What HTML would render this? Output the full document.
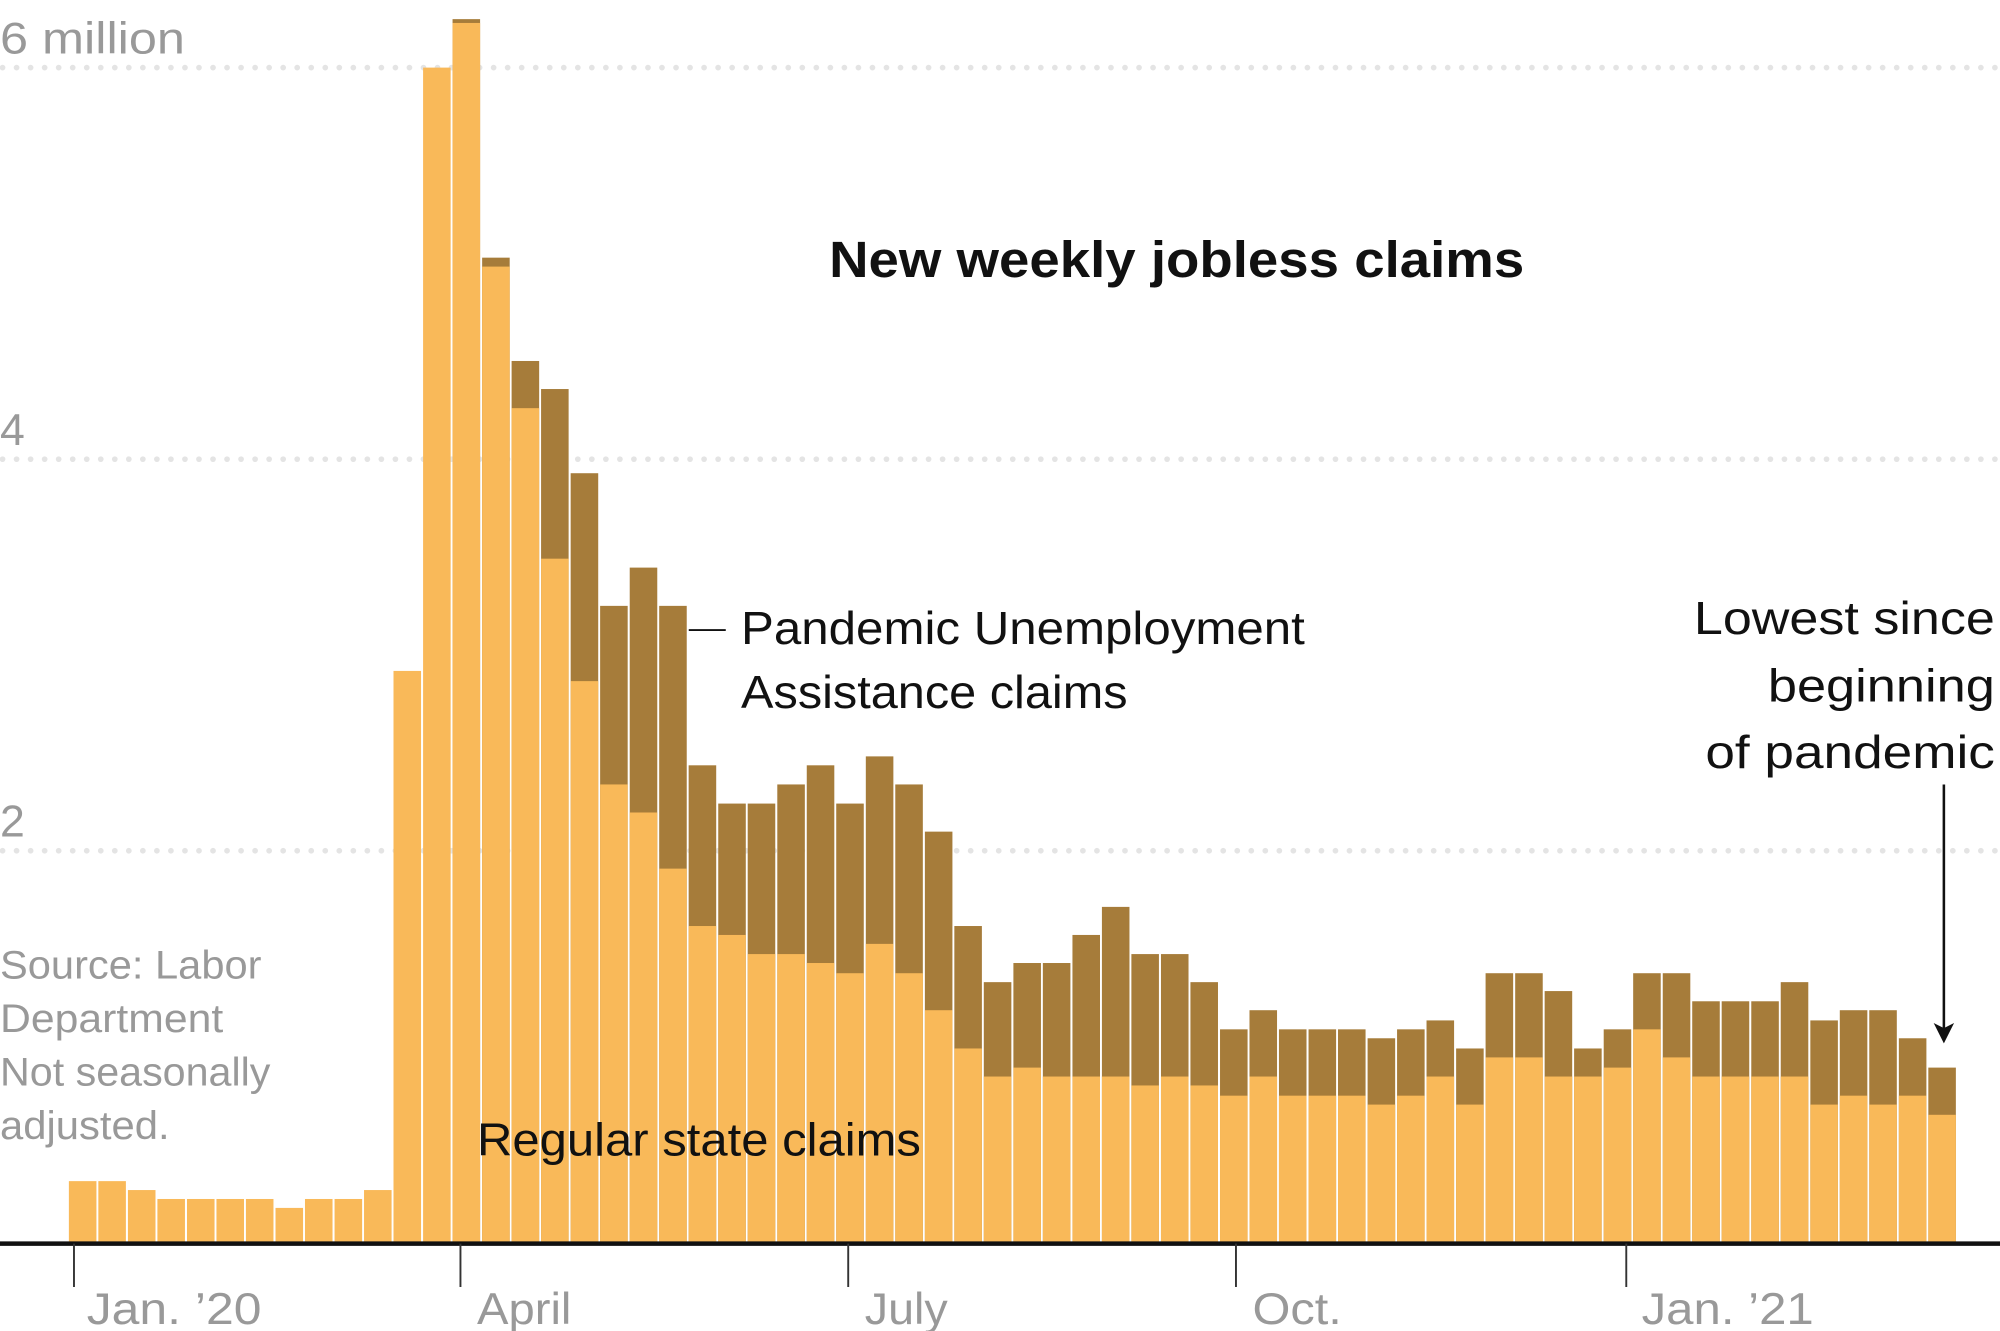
<!DOCTYPE html>
<html><head><meta charset="utf-8"><style>html,body{margin:0;padding:0;background:#fff}svg{display:block}</style></head><body>
<svg width="2000" height="1331" viewBox="0 0 1568 1043.5" xmlns="http://www.w3.org/2000/svg" font-family="'Liberation Sans', sans-serif">
<g stroke="#e4e4e4" stroke-width="4.5" stroke-linecap="round" stroke-dasharray="0 11">
<line x1="2" y1="53" x2="1568" y2="53"/><line x1="2" y1="360" x2="1568" y2="360"/><line x1="2" y1="667" x2="1568" y2="667"/>
</g>
<g fill="#999" font-size="35" font-weight="300">
<text x="0" y="42" textLength="145" lengthAdjust="spacingAndGlyphs">6 million</text><text x="0" y="349">4</text><text x="0" y="656">2</text>
</g>
<g fill="#a67c3a">
<rect x="354.8" y="15" width="21.6" height="960"/><rect x="378" y="202" width="21.6" height="773"/><rect x="401.1" y="283" width="21.6" height="692"/><rect x="424.2" y="305" width="21.6" height="670"/><rect x="447.4" y="371" width="21.6" height="604"/><rect x="470.5" y="475" width="21.6" height="500"/><rect x="493.7" y="445" width="21.6" height="530"/><rect x="516.8" y="475" width="21.6" height="500"/><rect x="539.9" y="600" width="21.6" height="375"/><rect x="563.1" y="630" width="21.6" height="345"/><rect x="586.2" y="630" width="21.6" height="345"/><rect x="609.4" y="615" width="21.6" height="360"/><rect x="632.5" y="600" width="21.6" height="375"/><rect x="655.6" y="630" width="21.6" height="345"/><rect x="678.8" y="593" width="21.6" height="382"/><rect x="701.9" y="615" width="21.6" height="360"/><rect x="725.1" y="652" width="21.6" height="323"/><rect x="748.2" y="726" width="21.6" height="249"/><rect x="771.3" y="770" width="21.6" height="205"/><rect x="794.5" y="755" width="21.6" height="220"/><rect x="817.6" y="755" width="21.6" height="220"/><rect x="840.8" y="733" width="21.6" height="242"/><rect x="863.9" y="711" width="21.6" height="264"/><rect x="887" y="748" width="21.6" height="227"/><rect x="910.2" y="748" width="21.6" height="227"/><rect x="933.3" y="770" width="21.6" height="205"/><rect x="956.5" y="807" width="21.6" height="168"/><rect x="979.6" y="792" width="21.6" height="183"/><rect x="1002.7" y="807" width="21.6" height="168"/><rect x="1025.9" y="807" width="21.6" height="168"/><rect x="1049" y="807" width="21.6" height="168"/><rect x="1072.2" y="814" width="21.6" height="161"/><rect x="1095.3" y="807" width="21.6" height="168"/><rect x="1118.4" y="800" width="21.6" height="175"/><rect x="1141.6" y="822" width="21.6" height="153"/><rect x="1164.7" y="763" width="21.6" height="212"/><rect x="1187.9" y="763" width="21.6" height="212"/><rect x="1211" y="777" width="21.6" height="198"/><rect x="1234.1" y="822" width="21.6" height="153"/><rect x="1257.3" y="807" width="21.6" height="168"/><rect x="1280.4" y="763" width="21.6" height="212"/><rect x="1303.6" y="763" width="21.6" height="212"/><rect x="1326.7" y="785" width="21.6" height="190"/><rect x="1349.8" y="785" width="21.6" height="190"/><rect x="1373" y="785" width="21.6" height="190"/><rect x="1396.1" y="770" width="21.6" height="205"/><rect x="1419.3" y="800" width="21.6" height="175"/><rect x="1442.4" y="792" width="21.6" height="183"/><rect x="1465.5" y="792" width="21.6" height="183"/><rect x="1488.7" y="814" width="21.6" height="161"/><rect x="1511.8" y="837" width="21.6" height="138"/>
</g>
<g fill="#f9b959">
<rect x="54" y="926" width="21.6" height="49"/><rect x="77.1" y="926" width="21.6" height="49"/><rect x="100.3" y="933" width="21.6" height="42"/><rect x="123.4" y="940" width="21.6" height="35"/><rect x="146.6" y="940" width="21.6" height="35"/><rect x="169.7" y="940" width="21.6" height="35"/><rect x="192.8" y="940" width="21.6" height="35"/><rect x="216" y="947" width="21.6" height="28"/><rect x="239.1" y="940" width="21.6" height="35"/><rect x="262.3" y="940" width="21.6" height="35"/><rect x="285.4" y="933" width="21.6" height="42"/><rect x="308.5" y="526" width="21.6" height="449"/><rect x="331.7" y="53" width="21.6" height="922"/>
<rect x="354.8" y="18" width="21.6" height="957"/><rect x="378" y="209" width="21.6" height="766"/><rect x="401.1" y="320" width="21.6" height="655"/><rect x="424.2" y="438" width="21.6" height="537"/><rect x="447.4" y="534" width="21.6" height="441"/><rect x="470.5" y="615" width="21.6" height="360"/><rect x="493.7" y="637" width="21.6" height="338"/><rect x="516.8" y="681" width="21.6" height="294"/><rect x="539.9" y="726" width="21.6" height="249"/><rect x="563.1" y="733" width="21.6" height="242"/><rect x="586.2" y="748" width="21.6" height="227"/><rect x="609.4" y="748" width="21.6" height="227"/><rect x="632.5" y="755" width="21.6" height="220"/><rect x="655.6" y="763" width="21.6" height="212"/><rect x="678.8" y="740" width="21.6" height="235"/><rect x="701.9" y="763" width="21.6" height="212"/><rect x="725.1" y="792" width="21.6" height="183"/><rect x="748.2" y="822" width="21.6" height="153"/><rect x="771.3" y="844" width="21.6" height="131"/><rect x="794.5" y="837" width="21.6" height="138"/><rect x="817.6" y="844" width="21.6" height="131"/><rect x="840.8" y="844" width="21.6" height="131"/><rect x="863.9" y="844" width="21.6" height="131"/><rect x="887" y="851" width="21.6" height="124"/><rect x="910.2" y="844" width="21.6" height="131"/><rect x="933.3" y="851" width="21.6" height="124"/><rect x="956.5" y="859" width="21.6" height="116"/><rect x="979.6" y="844" width="21.6" height="131"/><rect x="1002.7" y="859" width="21.6" height="116"/><rect x="1025.9" y="859" width="21.6" height="116"/><rect x="1049" y="859" width="21.6" height="116"/><rect x="1072.2" y="866" width="21.6" height="109"/><rect x="1095.3" y="859" width="21.6" height="116"/><rect x="1118.4" y="844" width="21.6" height="131"/><rect x="1141.6" y="866" width="21.6" height="109"/><rect x="1164.7" y="829" width="21.6" height="146"/><rect x="1187.9" y="829" width="21.6" height="146"/><rect x="1211" y="844" width="21.6" height="131"/><rect x="1234.1" y="844" width="21.6" height="131"/><rect x="1257.3" y="837" width="21.6" height="138"/><rect x="1280.4" y="807" width="21.6" height="168"/><rect x="1303.6" y="829" width="21.6" height="146"/><rect x="1326.7" y="844" width="21.6" height="131"/><rect x="1349.8" y="844" width="21.6" height="131"/><rect x="1373" y="844" width="21.6" height="131"/><rect x="1396.1" y="844" width="21.6" height="131"/><rect x="1419.3" y="866" width="21.6" height="109"/><rect x="1442.4" y="859" width="21.6" height="116"/><rect x="1465.5" y="866" width="21.6" height="109"/><rect x="1488.7" y="859" width="21.6" height="116"/><rect x="1511.8" y="874" width="21.6" height="101"/>
</g>
<line x1="0" y1="975" x2="1568" y2="975" stroke="#111" stroke-width="3.5"/>
<g stroke="#333" stroke-width="1.5">
<line x1="58" y1="975" x2="58" y2="1009"/><line x1="361" y1="975" x2="361" y2="1009"/><line x1="665" y1="975" x2="665" y2="1009"/><line x1="969" y1="975" x2="969" y2="1009"/><line x1="1275" y1="975" x2="1275" y2="1009"/>
</g>
<g fill="#999" font-size="35">
<text x="68" y="1038" textLength="137" lengthAdjust="spacingAndGlyphs">Jan. ’20</text><text x="374" y="1038" textLength="74" lengthAdjust="spacingAndGlyphs">April</text><text x="678" y="1038" textLength="65" lengthAdjust="spacingAndGlyphs">July</text><text x="982" y="1038" textLength="70" lengthAdjust="spacingAndGlyphs">Oct.</text><text x="1287" y="1038" textLength="135" lengthAdjust="spacingAndGlyphs">Jan. ’21</text>
</g>
<g fill="#999" font-size="31">
<text x="0" y="767" textLength="205" lengthAdjust="spacingAndGlyphs">Source: Labor</text><text x="0" y="809" textLength="175" lengthAdjust="spacingAndGlyphs">Department</text><text x="0" y="851" textLength="212" lengthAdjust="spacingAndGlyphs">Not seasonally</text><text x="0" y="893" textLength="133" lengthAdjust="spacingAndGlyphs">adjusted.</text>
</g>
<text x="650" y="217" font-size="40" font-weight="bold" fill="#111" textLength="545" lengthAdjust="spacingAndGlyphs">New weekly jobless claims</text>
<g fill="#111" font-size="36">
<text x="581" y="505" textLength="442" lengthAdjust="spacingAndGlyphs">Pandemic Unemployment</text>
<text x="581" y="555" textLength="303" lengthAdjust="spacingAndGlyphs">Assistance claims</text>
<text x="374" y="906" textLength="348" lengthAdjust="spacingAndGlyphs">Regular state claims</text>
<text x="1328" y="497" textLength="236" lengthAdjust="spacingAndGlyphs">Lowest since</text>
<text x="1386" y="550" textLength="178" lengthAdjust="spacingAndGlyphs">beginning</text>
<text x="1337" y="602" textLength="227" lengthAdjust="spacingAndGlyphs">of pandemic</text>
</g>
<line x1="540" y1="494" x2="569" y2="494" stroke="#111" stroke-width="1.5"/>
<line x1="1524" y1="615" x2="1524" y2="808" stroke="#111" stroke-width="2"/>
<path d="M1516 802 L1524 818 L1532 802 L1524 806 Z" fill="#111"/>
</svg>
</body></html>
